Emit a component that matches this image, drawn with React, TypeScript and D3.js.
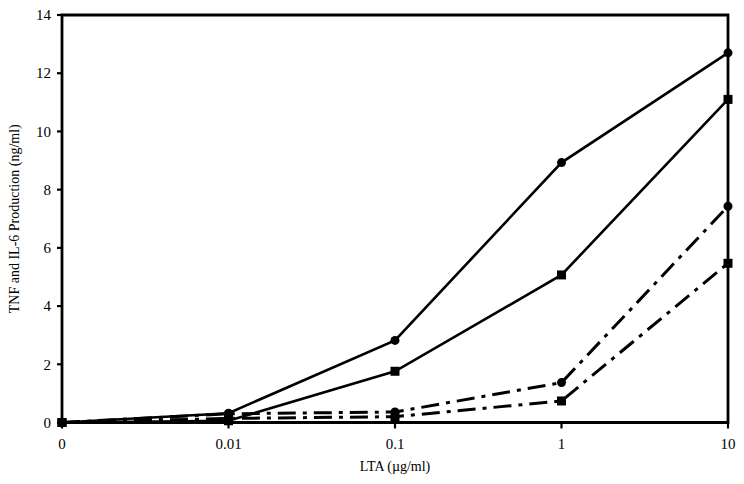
import React from "react";
import * as d3 from "d3";

// doses of LTA (µg/ml), evenly spaced categories
const doses = ["0", "0.01", "0.1", "1", "10"];
const yTicks = [0, 2, 4, 6, 8, 10, 12, 14];

// production (ng/ml)
const tnfCircle = [0, 0.32, 2.82, 8.93, 12.7];
const tnfSquare = [0, 0.06, 1.76, 5.07, 11.1];
const il6Circle = [0, 0.3, 0.36, 1.37, 7.43];
const il6Square = [0, 0.14, 0.2, 0.74, 5.47];

const series = [
  { values: tnfCircle, marker: "circle", dashed: false },
  { values: tnfSquare, marker: "square", dashed: false },
  { values: il6Circle, marker: "circle", dashed: true },
  { values: il6Square, marker: "square", dashed: true },
];

const width = 744,
  height = 484;
const margin = { left: 62, right: 16, top: 15, bottom: 62 };

export default function App() {
  const x = d3
    .scalePoint<string>()
    .domain(doses)
    .range([margin.left, width - margin.right]);
  const y = d3
    .scaleLinear()
    .domain([0, 14])
    .range([height - margin.bottom + 0.5, margin.top]);

  const line = d3
    .line<number>()
    .x((d, i) => x(doses[i]) as number)
    .y((d) => y(d));

  const x0 = margin.left,
    x1 = width - margin.right,
    yb = y(0),
    yt = y(14);
  const font = "'Liberation Serif', 'Times New Roman', serif";

  return (
    <svg
      width={width}
      height={height}
      style={{ position: "absolute", left: 0, top: 0, background: "#fff" }}
      fontFamily={font}
    >
      {/* frame */}
      <path
        d={`M${x0},${yb}V${yt}H${x1}V${yb}Z`}
        fill="none"
        stroke="#000"
        strokeWidth={2.8}
      />
      {yTicks.map((t) => (
        <g key={t}>
          <line x1={x0 - 5} x2={x0} y1={y(t)} y2={y(t)} stroke="#000" strokeWidth={2.2} />
          <text x={x0 - 11} y={y(t)} dy="0.35em" textAnchor="end" fontSize={15}>
            {t}
          </text>
        </g>
      ))}
      {doses.map((d) => (
        <g key={d}>
          <line x1={x(d)} x2={x(d)} y1={yb} y2={yb + 6} stroke="#000" strokeWidth={2.2} />
          <text x={x(d)} y={yb + 26} textAnchor="middle" fontSize={15}>
            {d}
          </text>
        </g>
      ))}
      <text x={(x0 + x1) / 2} y={471} textAnchor="middle" fontSize={14}>
        LTA (µg/ml)
      </text>
      <text
        transform={`translate(19,${(yt + yb) / 2}) rotate(-90)`}
        textAnchor="middle"
        fontSize={14}
      >
        TNF and IL-6 Production (ng/ml)
      </text>

      {series.map((s, si) => (
        <g key={si}>
          <path
            d={line(s.values) as string}
            fill="none"
            stroke="#000"
            strokeWidth={s.dashed ? 3 : 2.6}
            strokeDasharray={s.dashed ? "18,7,4,7" : undefined}
          />
          {s.values.map((v, i) =>
            s.marker === "circle" ? (
              <circle key={i} cx={x(doses[i])} cy={y(v)} r={4.5} fill="#000" />
            ) : (
              <rect
                key={i}
                x={(x(doses[i]) as number) - 4.5}
                y={y(v) - 4.5}
                width={9}
                height={9}
                fill="#000"
              />
            )
          )}
        </g>
      ))}
    </svg>
  );
}
